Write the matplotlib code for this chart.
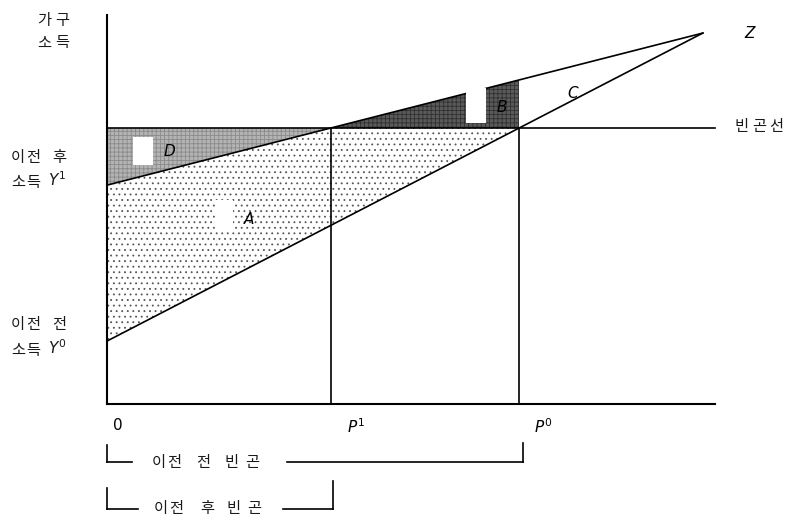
import matplotlib.pyplot as plt
import numpy as np
from matplotlib.patches import Polygon, Rectangle

plt.rcParams['font.family'] = ['Noto Sans CJK KR', 'DejaVu Sans']
plt.rcParams['mathtext.fontset'] = 'dejavusans'
plt.rcParams['hatch.linewidth'] = 0.6

# chart values (poverty line = 100)
poverty = 100.0
y0_start = 22.8      # 이전 전 소득 Y0 at the origin
y1_start = 79.3      # 이전 후 소득 Y1 at the origin
z_point = (98.0, 134.4)
x_end = 100.0
y_top = 141.0

# poverty headcounts where the income lines cross the poverty line
p1 = z_point[0] * (poverty - y1_start) / (z_point[1] - y1_start)
p0 = z_point[0] * (poverty - y0_start) / (z_point[1] - y0_start)


def line_y(start, x):
    return start + (z_point[1] - start) * x / z_point[0]


W, H = 788, 517
fig = plt.figure(figsize=(W / 100, H / 100), dpi=100)
ax = fig.add_axes([0, 0, 1, 1])
# pixel mapping: origin at (107, 404), 6.08 px per x unit, 2.76 px per y unit
ax.set_xlim(-107 / 6.08, (W - 107) / 6.08)
ax.set_ylim((404 - H) / 2.76, 404 / 2.76)
ax.set_axis_off()

txt_color = '#1a1a1a'
fs = 11


def ftext(px, py, s, **kw):
    fig.text(px / W, 1 - py / H, s, **kw)


def spaced(chars, centers, py):
    # letter-spaced Korean label, one glyph at a time
    for c, cx in zip(chars, centers):
        ftext(cx, py, c, fontsize=fs, ha='center', va='center', color=txt_color)


# area A (dotted)
ax.add_patch(Polygon([(0, y1_start), (p1, poverty), (p0, poverty), (0, y0_start)],
                     closed=True, facecolor='white', edgecolor='#555555',
                     hatch='...', lw=0))
# area D
ax.add_patch(Polygon([(0, poverty), (p1, poverty), (0, y1_start)], closed=True,
                     facecolor='#b4b4b4', edgecolor='#8a8a8a', hatch='++++', lw=0))
# area B
ax.add_patch(Polygon([(p1, poverty), (p0, poverty), (p0, line_y(y1_start, p0))],
                     closed=True, facecolor='#5a5a5a', edgecolor='#303030',
                     hatch='++++', lw=0))

lw = 1.2
ax.plot([0, x_end], [poverty, poverty], color='black', lw=lw)
ax.plot([0, z_point[0]], [y0_start, z_point[1]], color='black', lw=lw)
ax.plot([0, z_point[0]], [y1_start, z_point[1]], color='black', lw=lw)
ax.plot([p1, p1], [0, poverty], color='black', lw=lw)
ax.plot([p0, p0], [0, poverty], color='black', lw=lw)
ax.plot([0, 0], [0, y_top], color='black', lw=1.5)
ax.plot([0, x_end], [0, 0], color='black', lw=1.5)

# white blocks inside the shaded areas
for (x0, yy0, x1, yy1) in [(133, 137, 153, 165), (466, 88, 486, 123), (215, 200, 233, 232)]:
    ax.add_patch(Rectangle(((x0 - 107) / 6.08, (404 - yy1) / 2.76),
                           (x1 - x0) / 6.08, (yy1 - yy0) / 2.76,
                           facecolor='white', edgecolor='none', zorder=3))

spaced('가구', [44, 62], 20)
spaced('소득', [44, 62], 43)
spaced('이전후', [18, 33, 59], 158)
spaced('소득', [18, 33], 182)
ftext(57, 181, r'$\mathit{Y}^{1}$', fontsize=fs, ha='center', va='center', color=txt_color)
spaced('이전전', [18, 33, 59], 325)
spaced('소득', [18, 33], 350)
ftext(57, 349, r'$\mathit{Y}^{0}$', fontsize=fs, ha='center', va='center', color=txt_color)

spaced('빈곤선', [742, 759, 776], 127)
ftext(750, 34, 'Z', fontsize=11, ha='center', va='center', style='italic', family='DejaVu Sans')
ftext(118, 426, '0', fontsize=11, ha='center', va='center', family='DejaVu Sans')
ftext(356, 428, r'$\mathit{P}^{1}$', fontsize=11, ha='center', va='center')
ftext(543, 428, r'$\mathit{P}^{0}$', fontsize=11, ha='center', va='center')

for s, (px, py) in zip(['A', 'B', 'C', 'D'], [(249, 220), (502, 107), (573, 93), (169, 151)]):
    ftext(px, py, s, fontsize=11, ha='center', va='center', style='italic', family='DejaVu Sans')


# bottom brackets
def bracket(x0, x1, py, tick0, tick1, gap0, gap1, chars, centers):
    yb = 1 - py / H
    fig.add_artist(plt.Line2D([x0 / W, gap0 / W], [yb, yb], color='black', lw=lw))
    fig.add_artist(plt.Line2D([gap1 / W, x1 / W], [yb, yb], color='black', lw=lw))
    fig.add_artist(plt.Line2D([x0 / W, x0 / W], [yb, 1 - tick0 / H], color='black', lw=lw))
    fig.add_artist(plt.Line2D([x1 / W, x1 / W], [yb, 1 - tick1 / H], color='black', lw=lw))
    spaced(chars, centers, py)


bracket(107, 523, 462, 445, 443, 132, 287, '이전전빈곤', [159, 174, 203, 231, 252])
bracket(107, 333, 509, 488, 481, 138, 283, '이전후빈곤', [161, 176, 207, 233, 254])

fig.savefig('out.png', dpi=100)
